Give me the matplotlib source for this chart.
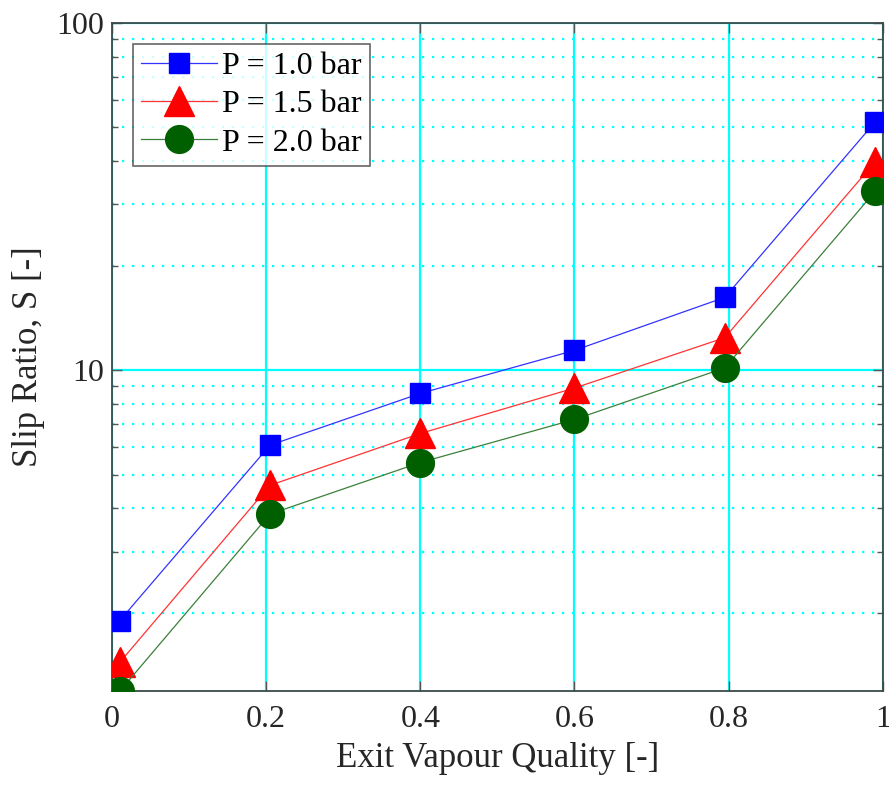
import numpy as np
import matplotlib
matplotlib.use("Agg")
import matplotlib.pyplot as plt
from matplotlib.ticker import LogLocator, NullFormatter, FixedLocator

plt.rcParams['font.family'] = ['Liberation Serif', 'DejaVu Serif']

# exit vapour quality and slip ratio for each pressure
quality = [0.01, 0.205, 0.4, 0.6, 0.795, 0.99]
slip_p10 = [1.90, 6.08, 8.57, 11.4, 16.2, 51.8]
slip_p15 = [1.44, 4.66, 6.57, 8.88, 12.4, 39.8]
slip_p20 = [1.19, 3.85, 5.42, 7.21, 10.15, 32.7]
labels = ["P = 1.0 bar", "P = 1.5 bar", "P = 2.0 bar"]

txt = '#262626'
fig = plt.figure(figsize=(8.89, 7.89), dpi=100)
ax = fig.add_axes([0.126, 0.124, 0.867, 0.847])

ax.plot(quality, slip_p10, color='#3333ff', lw=0.9, marker='s', ms=15,
        mfc='#0000ff', mec='#0000ff', label=labels[0], zorder=5)
ax.plot(quality, slip_p15, color='#ff3333', lw=0.9, marker='^', ms=21,
        mfc='#ff0000', mec='#ff0000', label=labels[1], zorder=5)
ax.plot(quality, slip_p20, color='#3a803a', lw=0.9, marker='o', ms=20,
        mfc='#006000', mec='#006000', label=labels[2], zorder=5)

ax.set_yscale('log')
ax.set_xlim(0, 1)
ax.set_ylim(1.19, 100)
ax.set_xticks([0, 0.2, 0.4, 0.6, 0.8, 1])
ax.set_xticklabels(['0', '0.2', '0.4', '0.6', '0.8', '1'])
ax.yaxis.set_major_locator(FixedLocator([10, 100]))
ax.set_yticklabels(['10', '100'])
ax.yaxis.set_minor_locator(LogLocator(base=10, subs=np.arange(2, 10)))
ax.yaxis.set_minor_formatter(NullFormatter())

ax.grid(True, which='major', color='#00ffff', lw=1.6, ls='-', zorder=0)
ax.grid(True, which='minor', axis='y', color='#00ffff', lw=1.6,
        ls=(0, (1, 3.5)), zorder=0)
ax.set_axisbelow(True)

ax.tick_params(which='both', direction='in', top=True, right=True,
               colors='#555555', labelcolor=txt, labelsize=23)
ax.tick_params(which='major', length=7, width=1)
ax.tick_params(which='minor', length=4, width=1)
ax.tick_params(axis='x', pad=10)
ax.tick_params(axis='y', pad=6)
for s in ax.spines.values():
    s.set_color('#3a4a4a')
    s.set_linewidth(1.3)

ax.set_xlabel('Exit Vapour Quality [-]', fontsize=25, color=txt, labelpad=6)
ax.set_ylabel('Slip Ratio, S [-]', fontsize=25, color=txt, labelpad=8)

leg = ax.legend(loc='upper left', bbox_to_anchor=(0.027, 0.969), fontsize=23,
                frameon=True, fancybox=False, edgecolor='#404040',
                handlelength=2.4, handletextpad=0.15, borderpad=0.25,
                labelspacing=0.28, borderaxespad=0)
leg.get_frame().set_linewidth(1.2)
for t in leg.get_texts():
    t.set_color('black')

fig.savefig('out.png', dpi=100)
